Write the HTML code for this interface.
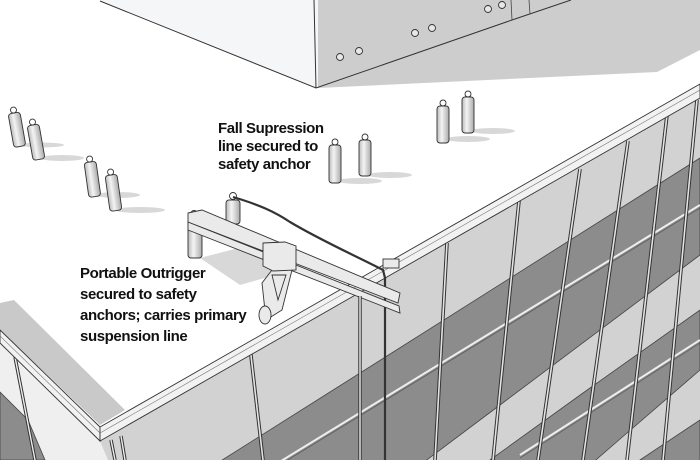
<!DOCTYPE html>
<html><head><meta charset="utf-8"><style>
html,body{margin:0;padding:0;background:#fff;width:700px;height:460px;overflow:hidden;}
svg{display:block;overflow:hidden}
.t{font-family:"Liberation Sans",Arial,sans-serif;font-weight:bold;font-size:15px;fill:#111;letter-spacing:-0.4px}
</style></head><body>
<svg width="700" height="460" viewBox="0 0 700 460" xmlns="http://www.w3.org/2000/svg">
<defs>
<linearGradient id="cyl" x1="0" x2="1" y1="0" y2="0">
<stop offset="0" stop-color="#bbb"/><stop offset="0.4" stop-color="#f4f4f4"/><stop offset="1" stop-color="#aaa"/>
</linearGradient>
<clipPath id="fr"><polygon points="100,441 700,98 700,460 100,460"/></clipPath>
</defs>
<rect width="700" height="460" fill="#fff"/>
<!-- penthouse -->
<polygon points="100,0 318,0 318,88" fill="#f5f6f8"/>
<polygon points="318,0 700,0 700,50 657,72 318,88" fill="#cdcdcd"/>
<polyline points="100,1 316,88 512,20 571,0" fill="none" stroke="#333" stroke-width="1"/>
<line x1="316" y1="88" x2="314" y2="0" stroke="#333" stroke-width="1"/>
<line x1="512" y1="20" x2="511" y2="0" stroke="#444" stroke-width="0.8"/>
<line x1="530" y1="14" x2="529" y2="0" stroke="#444" stroke-width="0.8"/>
<g fill="#e8e8e8" stroke="#333" stroke-width="0.9">
<circle cx="340" cy="57" r="3.5"/><circle cx="359" cy="51" r="3.5"/>
<circle cx="415" cy="33" r="3.5"/><circle cx="432" cy="28" r="3.5"/>
<circle cx="488" cy="9" r="3.5"/><circle cx="502" cy="5" r="3.5"/>
</g>
<!-- right facade -->
<polygon points="100,441 700,98 700,460 100,460" fill="#d2d2d2"/>
<g clip-path="url(#fr)">
<g fill="#8c8c8c" stroke="#444" stroke-width="0.8">
<polygon points="200,474 330,392 700,158 700,255 500,405 420,465"/>
<polygon points="490,460 583,393 700,310 700,370 627,433 590,465"/>
<polygon points="640,460 700,420 700,465"/>
</g>
<g fill="none" stroke="#eee" stroke-width="2">
<line x1="250" y1="480" x2="700" y2="205"/>
<line x1="520" y1="455" x2="700" y2="340"/>
</g>
<g fill="none" stroke="#555" stroke-width="0.7">
<line x1="250" y1="483" x2="700" y2="208"/>
<line x1="520" y1="458" x2="700" y2="343"/>
</g>
<!-- mullions -->
<g stroke="#333" stroke-width="3.6" fill="none">
<line x1="250" y1="347" x2="263" y2="460"/>
<line x1="447" y1="243" x2="435" y2="460"/>
<line x1="519" y1="201" x2="493" y2="460"/>
<line x1="580" y1="169" x2="538" y2="460"/>
<line x1="628" y1="141" x2="583" y2="460"/>
<line x1="667" y1="115" x2="627" y2="460"/>
<line x1="697" y1="100" x2="663" y2="460"/>
</g>
<g stroke="#e4e4e4" stroke-width="1.6" fill="none">
<line x1="250" y1="347" x2="263" y2="460"/>
<line x1="447" y1="243" x2="435" y2="460"/>
<line x1="519" y1="201" x2="493" y2="460"/>
<line x1="580" y1="169" x2="538" y2="460"/>
<line x1="628" y1="141" x2="583" y2="460"/>
<line x1="667" y1="115" x2="627" y2="460"/>
<line x1="697" y1="100" x2="663" y2="460"/>
</g>
</g>
<!-- left facade -->
<polygon points="0,343 100,441 108,460 0,460" fill="#efefef"/>
<polygon points="0,392 28,420 45,460 0,460" fill="#8c8c8c" stroke="#444" stroke-width="0.8"/>
<g stroke="#333" stroke-width="3.4"><line x1="15" y1="357" x2="35" y2="460"/><line x1="111" y1="440" x2="115" y2="460"/><line x1="121" y1="436" x2="125" y2="460"/></g>
<g stroke="#eee" stroke-width="1.4"><line x1="15" y1="357" x2="35" y2="460"/><line x1="111" y1="440" x2="115" y2="460"/><line x1="121" y1="436" x2="125" y2="460"/></g>
<!-- roof shadow strip left -->
<polygon points="0,303 14,300 125,410 100,425 0,330" fill="#c9c9c9"/>
<!-- parapets -->
<polygon points="0,330 100,427 100,441 0,343" fill="#f2f2f2" stroke="#333" stroke-width="0.9"/>
<polygon points="100,427 700,84 700,98 100,441" fill="#f2f2f2" stroke="#333" stroke-width="0.9"/>
<line x1="100" y1="433" x2="700" y2="90" stroke="#777" stroke-width="0.6"/>
<line x1="0" y1="336" x2="100" y2="433" stroke="#777" stroke-width="0.6"/>
<!-- anchor shadows -->
<g fill="#d8d8d8">
<ellipse cx="42" cy="145" rx="22" ry="2.5"/><ellipse cx="62" cy="158" rx="22" ry="3"/>
<ellipse cx="118" cy="195" rx="22" ry="3"/><ellipse cx="140" cy="210" rx="25" ry="3"/>
<ellipse cx="360" cy="181" rx="22" ry="3"/><ellipse cx="390" cy="175" rx="22" ry="3"/>
<ellipse cx="468" cy="139" rx="22" ry="3"/><ellipse cx="493" cy="131" rx="22" ry="3"/>
<polygon points="200,258 250,245 300,268 240,285" />
</g>
<!-- anchors -->
<g fill="url(#cyl)" stroke="#333" stroke-width="0.9">
<g transform="translate(14,113) rotate(-10)"><rect x="-6" y="0" width="12" height="34" rx="3"/><circle cx="0" cy="-3" r="3" fill="none"/></g>
<g transform="translate(33,125) rotate(-10)"><rect x="-6" y="0" width="12" height="35" rx="3"/><circle cx="0" cy="-3" r="3" fill="none"/></g>
<g transform="translate(90,162) rotate(-8)"><rect x="-6" y="0" width="12" height="35" rx="3"/><circle cx="0" cy="-3" r="3" fill="none"/></g>
<g transform="translate(111,175) rotate(-8)"><rect x="-6" y="0" width="12" height="36" rx="3"/><circle cx="0" cy="-3" r="3" fill="none"/></g>
<g transform="translate(335,145)"><rect x="-6" y="0" width="12" height="38" rx="3"/><circle cx="0" cy="-3" r="3" fill="none"/></g>
<g transform="translate(365,140)"><rect x="-6" y="0" width="12" height="36" rx="3"/><circle cx="0" cy="-3" r="3" fill="none"/></g>
<g transform="translate(443,106)"><rect x="-6" y="0" width="12" height="37" rx="3"/><circle cx="0" cy="-3" r="3" fill="none"/></g>
<g transform="translate(468,97)"><rect x="-6" y="0" width="12" height="36" rx="3"/><circle cx="0" cy="-3" r="3" fill="none"/></g>
<g transform="translate(233,200)"><rect x="-7" y="0" width="14" height="24" rx="3"/><circle cx="0" cy="-4" r="3.5" fill="none"/></g>
<g transform="translate(195,218)"><rect x="-7" y="0" width="14" height="40" rx="3"/><circle cx="-1" cy="-4" r="3.5" fill="none"/></g>
</g>
<!-- fall line rope -->
<path d="M233,197 C260,205 275,212 290,222 C320,240 360,258 383,270 L385,278 L385,460" fill="none" stroke="#333" stroke-width="2.2"/>
<!-- outrigger -->
<g stroke="#333" stroke-width="0.9" fill="#eaeaea">
<polygon points="188,222 399,306 400,313 188,230"/>
<polygon points="188,213 202,210 400,293 398,303 188,222"/>
<polygon points="262,283 272,270 292,270 282,310 266,320"/>
<polygon points="272,275 286,275 278,300"/>
<ellipse cx="265" cy="315" rx="6" ry="9"/>
<polygon points="263,243 285,242 296,246 296,270 273,271 263,266"/>
<rect x="383" y="259" width="16" height="9"/>
</g>
<line x1="360" y1="296" x2="360" y2="460" stroke="#333" stroke-width="3.4"/>
<line x1="360" y1="296" x2="360" y2="460" stroke="#eee" stroke-width="1.4"/>
<!-- labels -->
<text class="t" x="218" y="133">Fall Supression</text>
<text class="t" x="218" y="151">line secured to</text>
<text class="t" x="218" y="169">safety anchor</text>
<text class="t" x="80" y="278">Portable Outrigger</text>
<text class="t" x="80" y="299">secured to safety</text>
<text class="t" x="80" y="320">anchors; carries primary</text>
<text class="t" x="80" y="341">suspension line</text>
</svg>
</body></html>
